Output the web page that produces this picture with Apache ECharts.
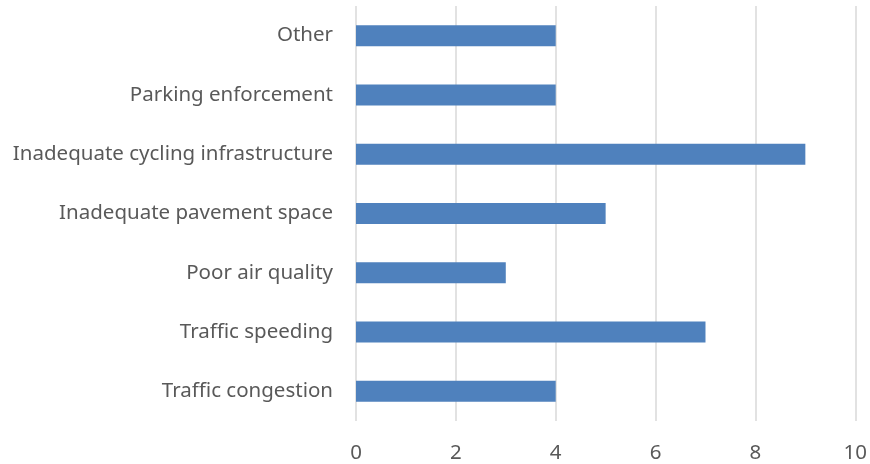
<!DOCTYPE html>
<html>
<head>
<meta charset="utf-8">
<script src="https://cdn.jsdelivr.net/npm/echarts@6/dist/echarts.min.js"></script>
<style>
  html, body { margin: 0; padding: 0; background: #fff; }
  #container { width: 870px; height: 464px; }
</style>
</head>
<body>
<div id="container"></div>
<script>
var categories = ['Traffic congestion', 'Traffic speeding', 'Poor air quality', 'Inadequate pavement space', 'Inadequate cycling infrastructure', 'Parking enforcement', 'Other'];
var counts = [4, 7, 3, 5, 9, 4, 4];
var xTicks = [0, 2, 4, 6, 8, 10];

var dom = document.getElementById('container');
var myChart = echarts.init(dom, null, {renderer: 'canvas'});
var labelFont = 'Noto Sans';

myChart.setOption({
  backgroundColor: '#fff',
  animation: false,
  grid: {
    left: 356,
    right: 14,
    top: 6,
    bottom: 42
  },
  xAxis: {
    type: 'value',
    min: xTicks[0],
    max: xTicks[xTicks.length - 1],
    interval: 2,
    axisLine: {show: false},
    axisTick: {show: false},
    splitLine: {lineStyle: {color: '#d9d9d9', width: 1.5}},
    axisLabel: {
      color: '#595959',
      fontFamily: labelFont,
      fontSize: 20.5,
      margin: 22
    }
  },
  yAxis: {
    type: 'category',
    data: categories,
    axisLine: {show: false},
    axisTick: {show: false},
    splitLine: {show: false},
    axisLabel: {
      color: '#595959',
      fontFamily: labelFont,
      fontSize: 20.5,
      margin: 23,
      padding: [3, 0, 0, 0]
    }
  },
  series: [{
    type: 'bar',
    data: counts,
    barWidth: 21,
    itemStyle: {color: '#4f81bd'}
  }]
});
</script>
</body>
</html>
